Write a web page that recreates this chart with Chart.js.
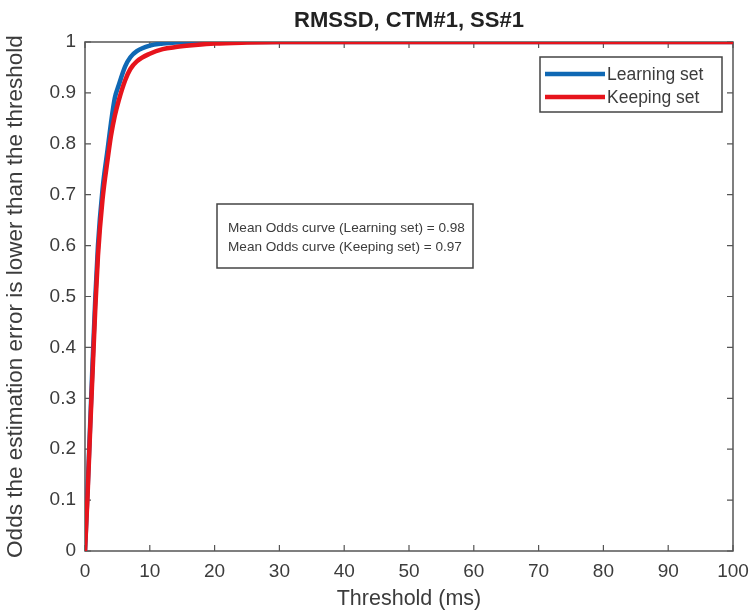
<!DOCTYPE html>
<html>
<head>
<meta charset="utf-8">
<script src="https://cdn.jsdelivr.net/npm/chart.js@4/dist/chart.umd.min.js"></script>
<style>
  html, body { margin: 0; padding: 0; background: #fff; }
  #wrap { width: 751px; height: 615px; }
</style>
</head>
<body>
<div id="wrap"><canvas id="c" width="751" height="615"></canvas></div>
<script>
// Threshold values (ms) at which the cumulative odds are sampled
const thresholds = [0, 0.4, 0.8, 1.2, 1.6, 2, 2.7, 3.5, 4, 4.6, 5.2, 6.2, 7, 8, 10, 12, 14, 17, 20, 25, 30, 40, 50, 60, 70, 80, 90, 100];
// Odds that the estimation error is lower than the threshold
const learningSet = [0, 0.12, 0.25, 0.38, 0.50, 0.60, 0.71, 0.79, 0.84, 0.89, 0.915, 0.952, 0.970, 0.982, 0.993, 0.997, 0.999, 1, 1, 1, 1, 1, 1, 1, 1, 1, 1, 1];
const keepingSet  = [0, 0.11, 0.24, 0.36, 0.48, 0.58, 0.69, 0.77, 0.815, 0.855, 0.885, 0.925, 0.947, 0.962, 0.977, 0.986, 0.990, 0.994, 0.997, 0.999, 1, 1, 1, 1, 1, 1, 1, 1];
const seriesNames = ['Learning set', 'Keeping set'];
const meanOdds = [0.98, 0.97];
const xTicks = [0, 10, 20, 30, 40, 50, 60, 70, 80, 90, 100];
const yTicks = [0, 0.1, 0.2, 0.3, 0.4, 0.5, 0.6, 0.7, 0.8, 0.9, 1];
const chartTitle = 'RMSSD, CTM#1, SS#1';

const BLUE = '#0f68b4';
const RED = '#e6141c';
const TEXT = '#3c3c3c';
const FONT = '"Liberation Sans", Arial, sans-serif';

const toPoints = ys => thresholds.map((x, i) => ({ x, y: ys[i] }));

// Axes frame, inward tick marks, title, legend and the mean-odds text box
const decorations = {
  id: 'decorations',
  beforeDatasetsDraw(chart) {
    const { ctx, chartArea: a, scales } = chart;
    ctx.save();
    ctx.strokeStyle = '#555';
    ctx.lineWidth = 1.5;
    ctx.strokeRect(a.left, a.top, a.right - a.left, a.bottom - a.top);
    ctx.lineWidth = 1.2;
    ctx.beginPath();
    const t = 6;
    xTicks.forEach(v => {
      const px = scales.x.getPixelForValue(v);
      ctx.moveTo(px, a.bottom); ctx.lineTo(px, a.bottom - t);
      ctx.moveTo(px, a.top); ctx.lineTo(px, a.top + t);
    });
    yTicks.forEach(v => {
      const py = scales.y.getPixelForValue(v);
      ctx.moveTo(a.left, py); ctx.lineTo(a.left + t, py);
      ctx.moveTo(a.right, py); ctx.lineTo(a.right - t, py);
    });
    ctx.stroke();
    ctx.restore();
  },
  afterDraw(chart) {
    const { ctx, chartArea: a } = chart;
    ctx.save();
    // title
    ctx.fillStyle = '#222';
    ctx.font = 'bold 22px ' + FONT;
    ctx.textAlign = 'center';
    ctx.textBaseline = 'alphabetic';
    ctx.fillText(chartTitle, (a.left + a.right) / 2, 27);

    // legend
    const lx = 540, ly = 57, lw = 182, lh = 55;
    ctx.fillStyle = '#fff';
    ctx.fillRect(lx, ly, lw, lh);
    ctx.strokeStyle = '#444';
    ctx.lineWidth = 1.5;
    ctx.strokeRect(lx, ly, lw, lh);
    const colors = [BLUE, RED];
    const rows = [74, 97];
    ctx.font = '17.5px ' + FONT;
    ctx.textAlign = 'left';
    ctx.textBaseline = 'middle';
    seriesNames.forEach((name, i) => {
      ctx.strokeStyle = colors[i];
      ctx.lineWidth = 4.5;
      ctx.beginPath();
      ctx.moveTo(545, rows[i]);
      ctx.lineTo(605, rows[i]);
      ctx.stroke();
      ctx.fillStyle = TEXT;
      ctx.fillText(name, 607, rows[i] + 1);
    });

    // mean odds box
    const bx = 217, by = 204, bw = 256, bh = 64;
    ctx.fillStyle = '#fff';
    ctx.fillRect(bx, by, bw, bh);
    ctx.strokeStyle = '#444';
    ctx.lineWidth = 1.5;
    ctx.strokeRect(bx, by, bw, bh);
    ctx.fillStyle = TEXT;
    ctx.font = '13.6px ' + FONT;
    ctx.textBaseline = 'alphabetic';
    ctx.fillText('Mean Odds curve (' + seriesNames[0] + ') = ' + meanOdds[0], 228, 232);
    ctx.fillText('Mean Odds curve (' + seriesNames[1] + ') = ' + meanOdds[1], 228, 251);
    ctx.restore();
  }
};

new Chart(document.getElementById('c'), {
  type: 'line',
  data: {
    datasets: [
      { label: seriesNames[0], data: toPoints(learningSet), borderColor: BLUE, backgroundColor: BLUE, order: 2 },
      { label: seriesNames[1], data: toPoints(keepingSet), borderColor: RED, backgroundColor: RED, order: 1 }
    ]
  },
  options: {
    responsive: false,
    animation: false,
    layout: { padding: { top: 42, right: 18, left: 0, bottom: 0 } },
    elements: {
      point: { radius: 0 },
      line: { borderWidth: 4.5, cubicInterpolationMode: 'monotone' }
    },
    plugins: { legend: { display: false }, title: { display: false }, tooltip: { enabled: false } },
    scales: {
      x: {
        type: 'linear', min: 0, max: 100,
        afterBuildTicks(s) { s.ticks = xTicks.map(v => ({ value: v })); },
        afterFit(s) { s.height = 64; s.paddingLeft = 0; s.paddingRight = 0; },
        ticks: { color: TEXT, font: { family: FONT, size: 19 }, padding: 9, maxRotation: 0, autoSkip: false,
                 callback: v => String(v) },
        grid: { display: false, drawTicks: false },
        border: { display: false },
        title: { display: true, text: 'Threshold (ms)', color: TEXT, font: { family: FONT, size: 21.5 }, padding: { top: 0, bottom: 3 } }
      },
      y: {
        min: 0, max: 1,
        afterBuildTicks(s) { s.ticks = yTicks.map(v => ({ value: v })); },
        afterFit(s) { s.width = 85; s.paddingTop = 0; s.paddingBottom = 0; },
        ticks: { color: TEXT, font: { family: FONT, size: 19 }, padding: 9, autoSkip: false,
                 callback: v => String(Number(v.toFixed(1))) },
        grid: { display: false, drawTicks: false },
        border: { display: false },
        title: { display: true, text: 'Odds the estimation error is lower than the threshold', color: TEXT, font: { family: FONT, size: 22.5 }, padding: { top: 2, bottom: 0 } }
      }
    }
  },
  plugins: [decorations]
});
</script>
</body>
</html>
